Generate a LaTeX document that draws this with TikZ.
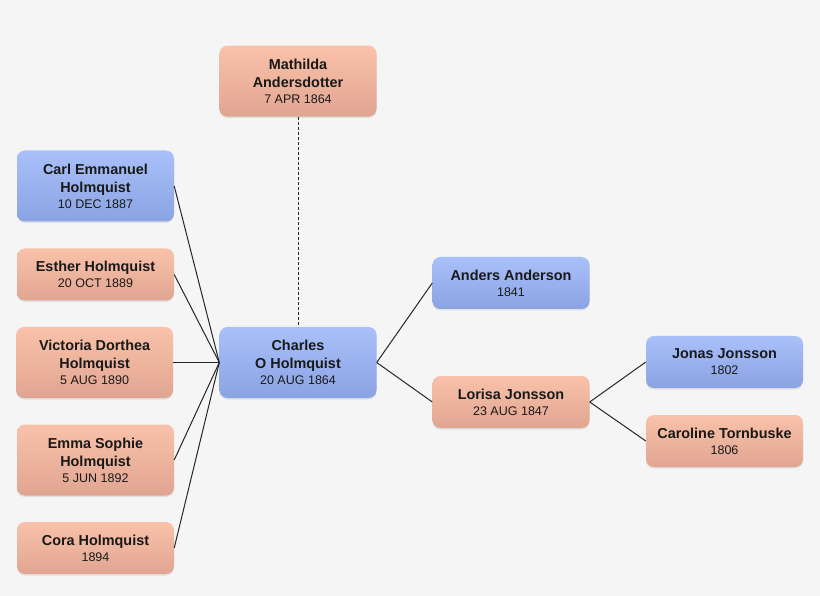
\documentclass[tikz,border=0pt]{standalone}
\usepackage{fontspec}
\setmainfont{Liberation Sans}
\usetikzlibrary{positioning, shadows}

\definecolor{maletop}{HTML}{A9C0FA}
\definecolor{malebot}{HTML}{8AA3E2}
\definecolor{femtop}{HTML}{FAC2AA}
\definecolor{fembot}{HTML}{E0A591}
\definecolor{bgcol}{HTML}{F5F5F5}

\newcommand{\born}[1]{{\fontsize{12.5}{15}\selectfont\mdseries #1}}

\begin{document}
\begin{tikzpicture}[x=1pt, y=-1pt,
    every node/.style={align=center, rounded corners=8pt, minimum width=157pt, minimum height=52pt, inner sep=3pt, text=black!90,
        font=\fontsize{14.4}{18}\selectfont\bfseries},
    male/.style={top color=maletop, bottom color=malebot, drop shadow={opacity=0.18, shadow xshift=0pt, shadow yshift=-1.5pt}},
    female/.style={top color=femtop, bottom color=fembot, drop shadow={opacity=0.18, shadow xshift=0pt, shadow yshift=-1.5pt}},
    tall/.style={minimum height=71pt},
    link/.style={draw=black!85, line width=1pt}]
    \fill[bgcol] (0,0) rectangle (820,596);

    \node[male, tall] (charles) at (298,362.5) {Charles\\O Holmquist\\[-2pt]\born{20 AUG 1864}};
    \node[female, tall, above=210pt of charles] (mathilda) {Mathilda\\Andersdotter\\[-2pt]\born{7 APR 1864}};

    % children
    \node[male, tall] (carl) at (95.5,186) {Carl Emmanuel\\Holmquist\\[-2pt]\born{10 DEC 1887}};
    \node[female] (esther) at (95.5,274.5) {Esther Holmquist\\[-2pt]\born{20 OCT 1889}};
    \node[female, tall, left=46pt of charles] (victoria) {Victoria Dorthea\\Holmquist\\[-2pt]\born{5 AUG 1890}};
    \node[female, tall] (emma) at (95.5,460) {Emma Sophie\\Holmquist\\[-2pt]\born{5 JUN 1892}};
    \node[female] (cora) at (95.5,548) {Cora Holmquist\\[-2pt]\born{1894}};

    % parents
    \node[male] (anders) at (511,283) {Anders Anderson\\[-2pt]\born{1841}};
    \node[female] (lorisa) at (511,402) {Lorisa Jonsson\\[-2pt]\born{23 AUG 1847}};
    \node[male] (jonas) at (724.5,362) {Jonas Jonsson\\[-2pt]\born{1802}};
    \node[female] (caroline) at (724.5,441) {Caroline Tornbuske\\[-2pt]\born{1806}};

    \foreach \kid in {carl, esther, victoria, emma, cora}
        \draw[link] (\kid.east) -- (charles.west);
    \draw[link] (charles.east) -- (anders.west);
    \draw[link] (charles.east) -- (lorisa.west);
    \draw[link] (lorisa.east) -- (jonas.west);
    \draw[link] (lorisa.east) -- (caroline.west);
    \draw[link, line width=0.8pt, dash pattern=on 3pt off 2pt] (mathilda.south) -- (charles.north);
\end{tikzpicture}
\end{document}
